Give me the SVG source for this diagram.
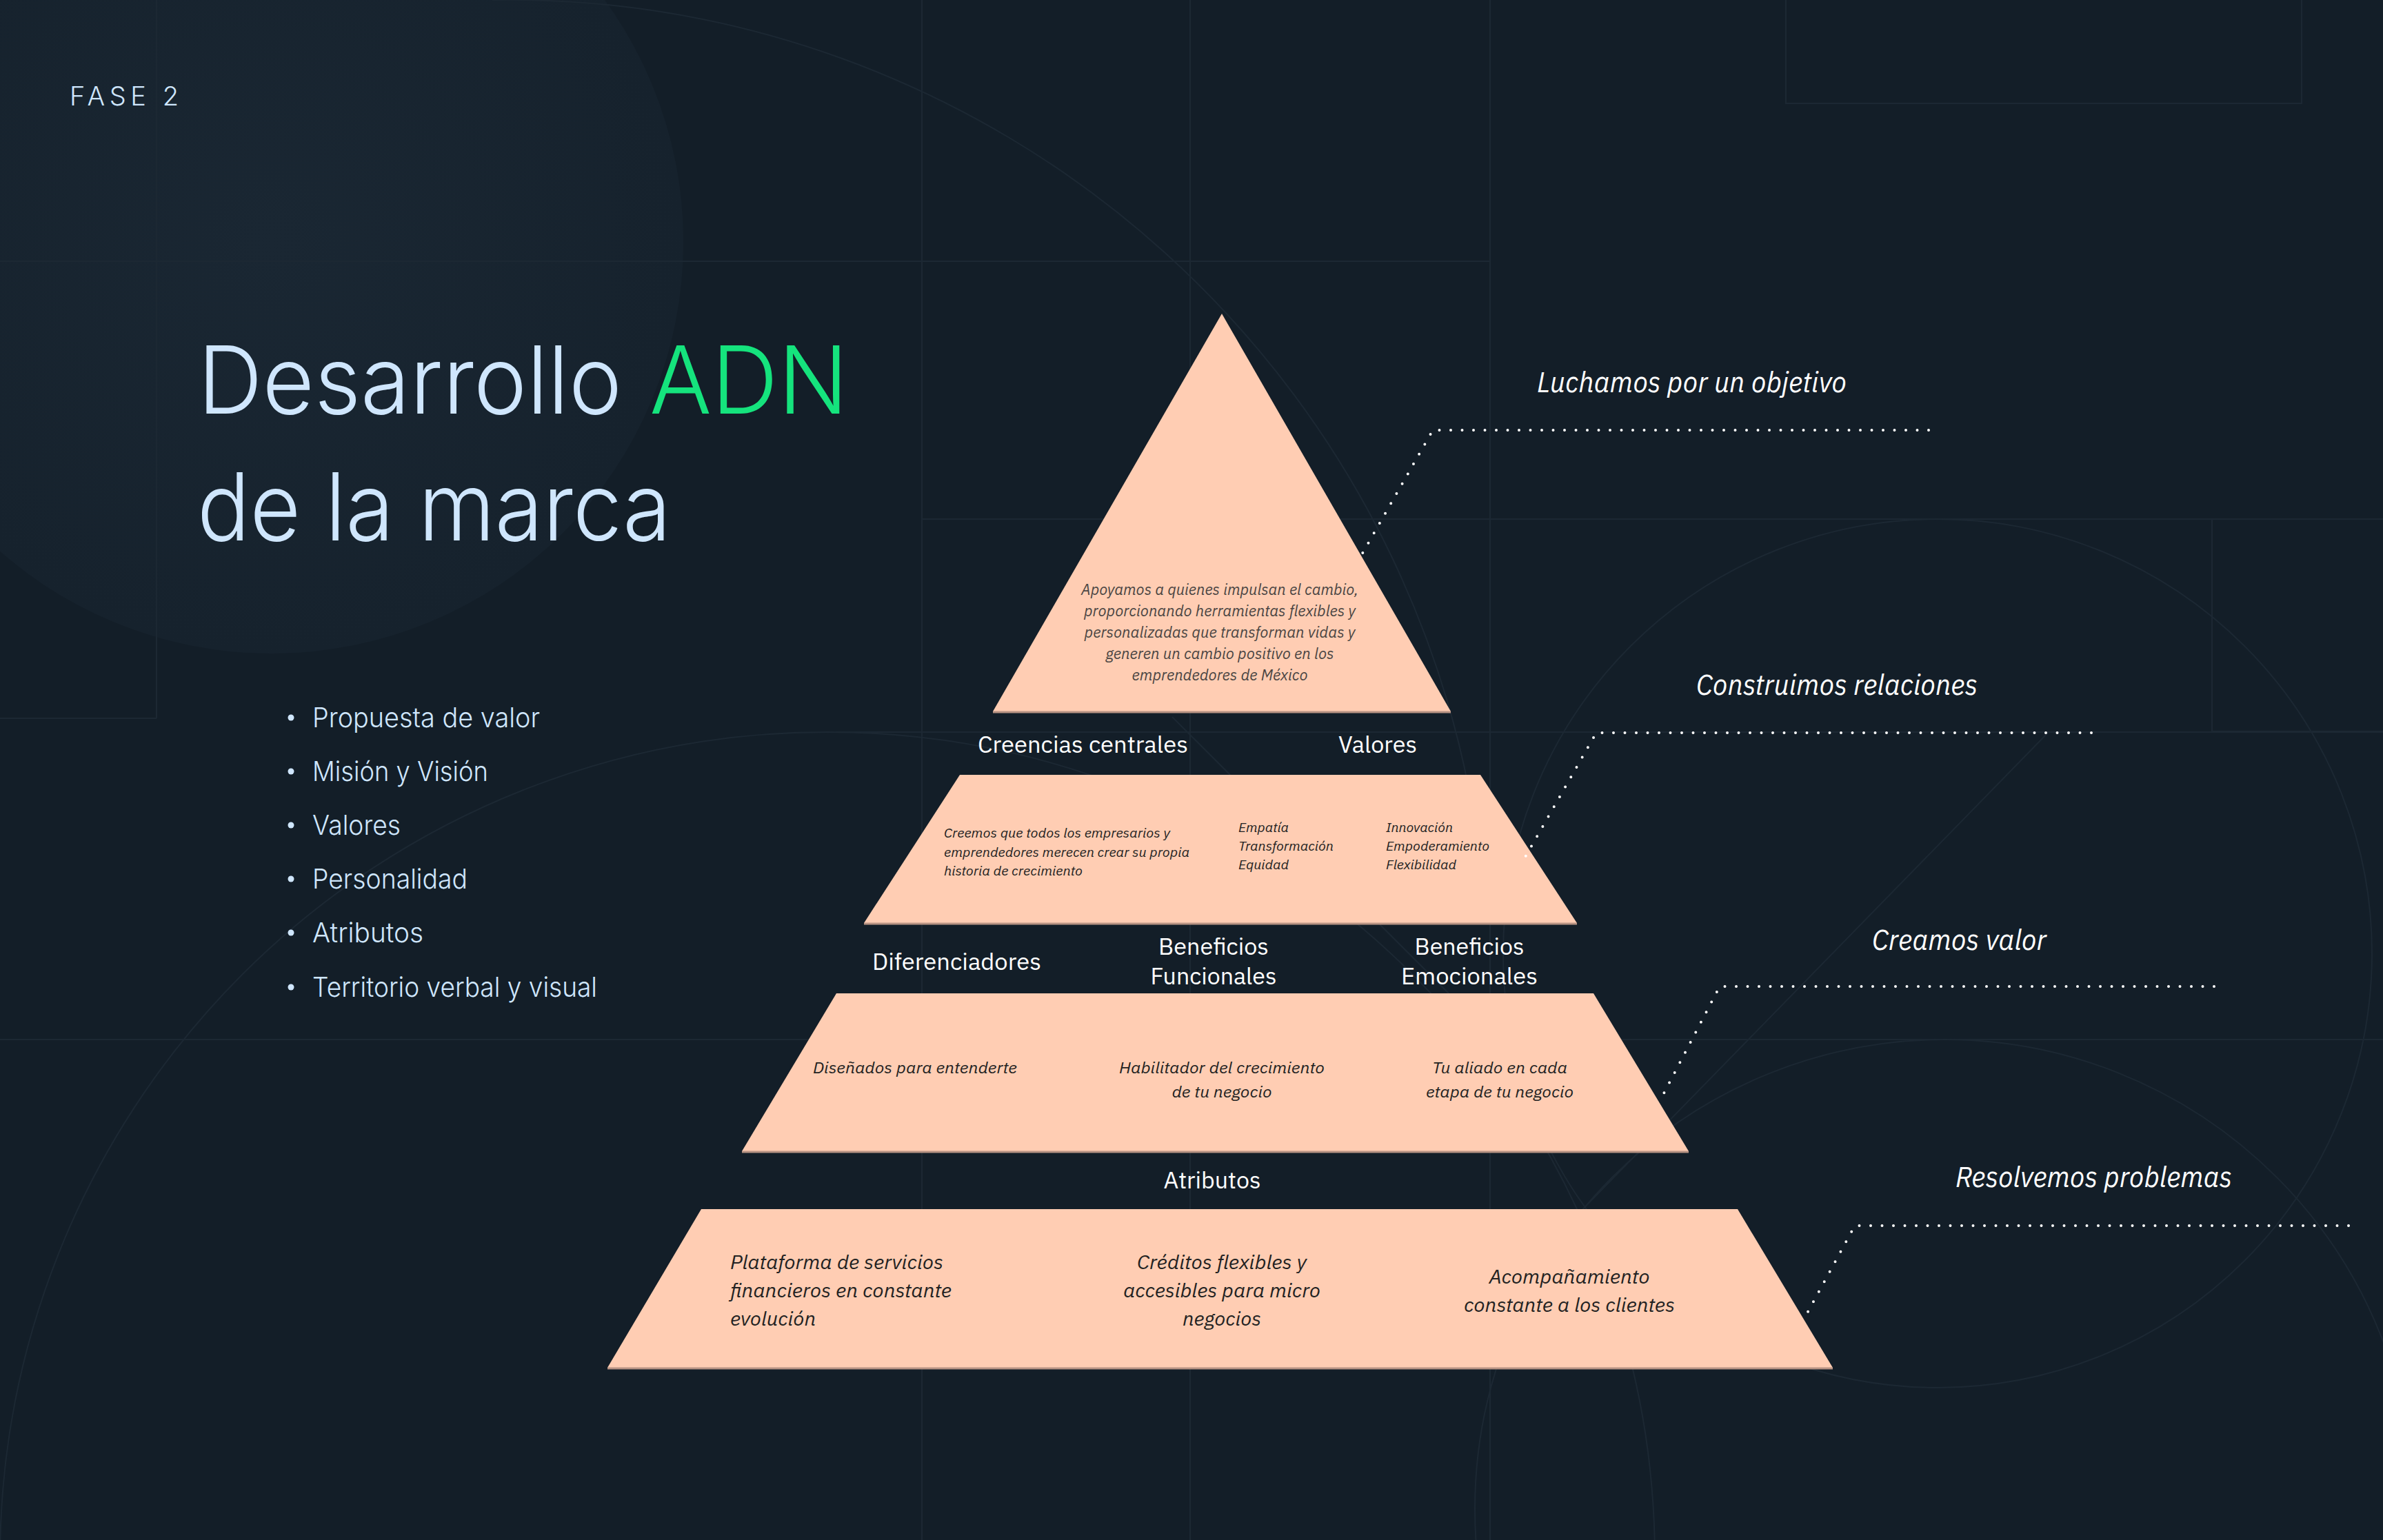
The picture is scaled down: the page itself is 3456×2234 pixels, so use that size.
<svg xmlns="http://www.w3.org/2000/svg" width="3456" height="2234" viewBox="0 0 3456 2234">
  <defs>
    <radialGradient id="disc" cx="0.5" cy="0.5" r="0.5">
      <stop offset="0" stop-color="#1a2733"/>
      <stop offset="1" stop-color="#16222d"/>
    </radialGradient>
    <style>
      .bgl{stroke:#1c2833;stroke-width:2;fill:none}
      .peach{fill:#ffcdb3}
      .edge{stroke:#b89383;stroke-width:3}
      .hdr{font-family:"IBM Plex Sans","Noto Sans","Open Sans",sans-serif;fill:#ffffff;font-size:34px}
      .it{font-family:"IBM Plex Sans","Noto Sans","Open Sans",sans-serif;font-style:italic}
      .dark{fill:#222222}
      .soft{fill:#4a4543}
      .call{fill:#ffffff;font-size:42px}
      .dots{stroke:#ffffff;stroke-width:4;stroke-linecap:round;stroke-dasharray:0 16.5;fill:none}
      .ttl{font-family:Inter,"Lato","Noto Sans",sans-serif;font-weight:300;fill:#cfe6fd}
      .blt{font-family:Inter,"Lato","Noto Sans",sans-serif;font-weight:300;fill:#cfe6fd;font-size:40px}
    </style>
  </defs>

  <!-- background -->
  <rect x="0" y="0" width="3456" height="2234" fill="#131e28"/>
  <g id="background">
    <circle cx="394" cy="351" r="597" fill="url(#disc)"/>
    <line class="bgl" x1="0" y1="379" x2="2160" y2="379"/>
    <line class="bgl" x1="227" y1="0" x2="227" y2="1042"/>
    <line class="bgl" x1="0" y1="1042" x2="227" y2="1042"/>
    <line class="bgl" x1="1337" y1="0" x2="1337" y2="2234"/>
    <line class="bgl" x1="1726" y1="0" x2="1726" y2="2234"/>
    <line class="bgl" x1="2161" y1="0" x2="2161" y2="2234"/>
    <line class="bgl" x1="1337" y1="753" x2="3456" y2="753"/>
    <line class="bgl" x1="1212" y1="1062" x2="3456" y2="1062"/>
    <line class="bgl" x1="0" y1="1508" x2="3456" y2="1508"/>
    <rect class="bgl" x="2590" y="-2" width="748" height="152"/>
    <rect class="bgl" x="3208" y="753" width="250" height="308"/>
    <circle class="bgl" cx="2810" cy="1383" r="630"/>
    <circle class="bgl" cx="2820" cy="2189" r="681"/>
    <circle class="bgl" cx="1200" cy="2262" r="1200"/>
    <path class="bgl" d="M714,0 A1420,1420 0 0 1 2152,1300"/>
    <line class="bgl" x1="1700" y1="1040" x2="2110" y2="1450"/>
    <line class="bgl" x1="2970" y1="1063" x2="2280" y2="1770"/>
  </g>

  <!-- left header -->
  <g id="phase">
    <text x="101" y="153" class="ttl" font-size="38" textLength="158" lengthAdjust="spacing">FASE 2</text>
  </g>
  <g id="title">
    <text x="287" y="600" class="ttl" font-size="136" textLength="615" lengthAdjust="spacingAndGlyphs">Desarrollo</text>
    <text x="942" y="600" class="ttl" font-size="136" style="fill:#15e37d" textLength="288" lengthAdjust="spacingAndGlyphs">ADN</text>
    <text x="286" y="784" class="ttl" font-size="136" textLength="687" lengthAdjust="spacingAndGlyphs">de la marca</text>
  </g>
  <g id="bullets">
    <circle cx="422" cy="1041" r="4.5" fill="#cfe6fd"/>
    <text x="453" y="1055" class="blt" textLength="330" lengthAdjust="spacingAndGlyphs">Propuesta de valor</text>
    <circle cx="422" cy="1119" r="4.5" fill="#cfe6fd"/>
    <text x="453" y="1133" class="blt" textLength="255" lengthAdjust="spacingAndGlyphs">Misión y Visión</text>
    <circle cx="422" cy="1197" r="4.5" fill="#cfe6fd"/>
    <text x="453" y="1211" class="blt" textLength="128" lengthAdjust="spacingAndGlyphs">Valores</text>
    <circle cx="422" cy="1275" r="4.5" fill="#cfe6fd"/>
    <text x="453" y="1289" class="blt" textLength="225" lengthAdjust="spacingAndGlyphs">Personalidad</text>
    <circle cx="422" cy="1353" r="4.5" fill="#cfe6fd"/>
    <text x="453" y="1367" class="blt" textLength="161" lengthAdjust="spacingAndGlyphs">Atributos</text>
    <circle cx="422" cy="1432" r="4.5" fill="#cfe6fd"/>
    <text x="453" y="1446" class="blt" textLength="413" lengthAdjust="spacingAndGlyphs">Territorio verbal y visual</text>
  </g>

  <!-- pyramid layer 1 -->
  <g id="layer-proposito">
    <polygon class="peach" points="1772,455 2104,1032 1440,1032"/>
    <line class="edge" x1="1440" y1="1033" x2="2104" y2="1033"/>
    <g class="it soft" font-size="22" text-anchor="middle">
      <text x="1769" y="863" textLength="402" lengthAdjust="spacingAndGlyphs">Apoyamos a quienes impulsan el cambio,</text>
      <text x="1769" y="894" textLength="394" lengthAdjust="spacingAndGlyphs">proporcionando herramientas flexibles y</text>
      <text x="1769" y="925" textLength="393" lengthAdjust="spacingAndGlyphs">personalizadas que transforman vidas y</text>
      <text x="1769" y="956" textLength="331" lengthAdjust="spacingAndGlyphs">generen un cambio positivo en los</text>
      <text x="1769" y="987" textLength="255" lengthAdjust="spacingAndGlyphs">emprendedores de México</text>
    </g>
  </g>

  <!-- labels layer 2 -->
  <g id="labels-2">
    <text x="1418" y="1092" class="hdr" textLength="305" lengthAdjust="spacingAndGlyphs">Creencias centrales</text>
    <text x="1941" y="1092" class="hdr" textLength="114" lengthAdjust="spacingAndGlyphs">Valores</text>
  </g>
  <g id="layer-creencias-valores">
    <polygon class="peach" points="1392,1124 2147,1124 2287,1339 1253,1339"/>
    <line class="edge" x1="1253" y1="1340" x2="2287" y2="1340"/>
    <g class="it dark" font-size="19">
      <text x="1369" y="1215" textLength="328" lengthAdjust="spacingAndGlyphs">Creemos que todos los empresarios y</text>
      <text x="1369" y="1243" textLength="356" lengthAdjust="spacingAndGlyphs">emprendedores merecen crear su propia</text>
      <text x="1369" y="1270" textLength="201" lengthAdjust="spacingAndGlyphs">historia de crecimiento</text>
      <text x="1796" y="1207" textLength="73" lengthAdjust="spacingAndGlyphs">Empatía</text>
      <text x="1796" y="1234" textLength="138" lengthAdjust="spacingAndGlyphs">Transformación</text>
      <text x="1796" y="1261" textLength="73" lengthAdjust="spacingAndGlyphs">Equidad</text>
      <text x="2010" y="1207" textLength="97" lengthAdjust="spacingAndGlyphs">Innovación</text>
      <text x="2010" y="1234" textLength="150" lengthAdjust="spacingAndGlyphs">Empoderamiento</text>
      <text x="2010" y="1261" textLength="102" lengthAdjust="spacingAndGlyphs">Flexibilidad</text>
    </g>
  </g>

  <!-- labels layer 3 -->
  <g id="labels-3">
    <text x="1265" y="1407" class="hdr" textLength="245" lengthAdjust="spacingAndGlyphs">Diferenciadores</text>
    <text x="1760" y="1385" class="hdr" text-anchor="middle" textLength="160" lengthAdjust="spacingAndGlyphs">Beneficios</text>
    <text x="1760" y="1428" class="hdr" text-anchor="middle" textLength="183" lengthAdjust="spacingAndGlyphs">Funcionales</text>
    <text x="2131" y="1385" class="hdr" text-anchor="middle" textLength="159" lengthAdjust="spacingAndGlyphs">Beneficios</text>
    <text x="2131" y="1428" class="hdr" text-anchor="middle" textLength="198" lengthAdjust="spacingAndGlyphs">Emocionales</text>
  </g>
  <g id="layer-beneficios">
    <polygon class="peach" points="1213,1441 2311,1441 2449,1670 1076,1670"/>
    <line class="edge" x1="1076" y1="1671" x2="2449" y2="1671"/>
    <g class="it dark" font-size="23" text-anchor="middle">
      <text x="1327" y="1557" textLength="296" lengthAdjust="spacingAndGlyphs">Diseñados para entenderte</text>
      <text x="1772" y="1557" textLength="298" lengthAdjust="spacingAndGlyphs">Habilitador del crecimiento</text>
      <text x="1772" y="1592" textLength="145" lengthAdjust="spacingAndGlyphs">de tu negocio</text>
      <text x="2175" y="1557" textLength="196" lengthAdjust="spacingAndGlyphs">Tu aliado en cada</text>
      <text x="2175" y="1592" textLength="214" lengthAdjust="spacingAndGlyphs">etapa de tu negocio</text>
    </g>
  </g>

  <!-- labels layer 4 -->
  <g id="labels-4">
    <text x="1758" y="1724" class="hdr" text-anchor="middle" textLength="141" lengthAdjust="spacingAndGlyphs">Atributos</text>
  </g>
  <g id="layer-atributos">
    <polygon class="peach" points="1017,1754 2520,1754 2658,1984 881,1984"/>
    <line class="edge" x1="881" y1="1985" x2="2658" y2="1985"/>
    <g class="it dark" font-size="28">
      <text x="1059" y="1841" textLength="309" lengthAdjust="spacingAndGlyphs">Plataforma de servicios</text>
      <text x="1059" y="1882" textLength="321" lengthAdjust="spacingAndGlyphs">financieros en constante</text>
      <text x="1059" y="1923" textLength="124" lengthAdjust="spacingAndGlyphs">evolución</text>
    </g>
    <g class="it dark" font-size="28" text-anchor="middle">
      <text x="1772" y="1841" textLength="246" lengthAdjust="spacingAndGlyphs">Créditos flexibles y</text>
      <text x="1772" y="1882" textLength="286" lengthAdjust="spacingAndGlyphs">accesibles para micro</text>
      <text x="1772" y="1923" textLength="114" lengthAdjust="spacingAndGlyphs">negocios</text>
      <text x="2276" y="1862" textLength="233" lengthAdjust="spacingAndGlyphs">Acompañamiento</text>
      <text x="2276" y="1903" textLength="306" lengthAdjust="spacingAndGlyphs">constante a los clientes</text>
    </g>
  </g>

  <!-- callout labels -->
  <g id="callout-objetivo">
    <text x="2229" y="569" class="it call" textLength="449" lengthAdjust="spacingAndGlyphs">Luchamos por un objetivo</text>
  </g>
  <g id="callout-relaciones">
    <text x="2460" y="1008" class="it call" textLength="408" lengthAdjust="spacingAndGlyphs">Construimos relaciones</text>
  </g>
  <g id="callout-valor">
    <text x="2715" y="1378" class="it call" textLength="253" lengthAdjust="spacingAndGlyphs">Creamos valor</text>
  </g>
  <g id="callout-problemas">
    <text x="2836" y="1722" class="it call" textLength="401" lengthAdjust="spacingAndGlyphs">Resolvemos problemas</text>
  </g>

  <!-- connectors -->
  <g id="connectors">
    <path class="dots" d="M2797,624 H2078 L1974,806"/>
    <path class="dots" d="M3033,1063 H2315 L2211,1245"/>
    <path class="dots" d="M3211,1431 H2494 L2412,1588"/>
    <path class="dots" d="M3406,1778 H2690 L2617,1912"/>
  </g>
</svg>
